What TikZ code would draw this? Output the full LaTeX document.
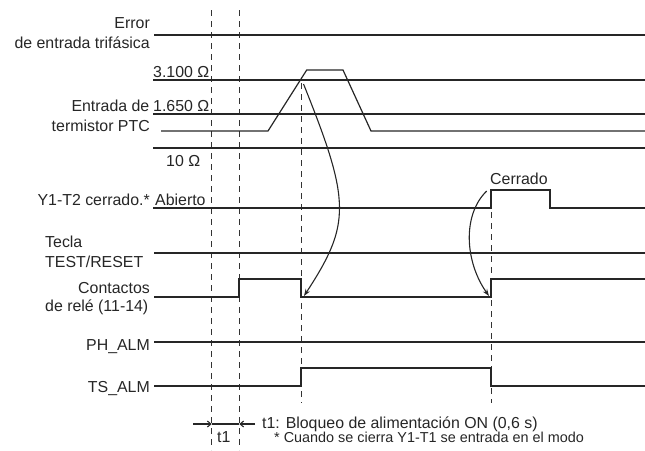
\documentclass[tikz,border=0pt]{standalone}
\usepackage{fontspec}
\setmainfont{Liberation Sans}
\usetikzlibrary{arrows.meta, positioning}

\begin{document}
\begin{tikzpicture}[
        x=1pt, y=-1pt,
        lbl/.style={font=\fontsize{15.9}{18}\selectfont, inner sep=0pt, text=black!85},
        note/.style={lbl, font=\fontsize{14.4}{17}\selectfont},
        sig/.style={line width=1.8pt, black!85},
        ptc/.style={line width=1.2pt, black!85},
        vdash/.style={line width=1pt, black!80, dash pattern=on 6pt off 5pt},
        curarr/.style={-{Stealth[length=7pt, width=5pt]}, line width=1.1pt, black!85},
        tarr/.style={-{Straight Barb[length=3.5pt, width=6pt]}, line width=1.1pt, black!85},
    ]
    \useasboundingbox (0,0) rectangle (645,450);
    \draw[vdash] (211.7,10) -- (211.7,450);
    \draw[vdash] (239.3,10) -- (239.3,450);
    \draw[vdash] (301,83) -- (301,403);
    \draw[vdash] (491,190) -- (491,403);
    \draw[sig] (154,35) -- (645,35);
    \draw[sig] (153,80) -- (645,80);
    \draw[sig] (153,114) -- (645,114);
    \draw[ptc] (161,131) -- (268,131) -- (306.7,70) -- (343,70) -- (371,131) -- (645,131);
    \draw[sig] (153,148) -- (645,148);
    \draw[sig] (153,208) -- (491,208) -- (491,190) -- (550,190) -- (550,208) -- (645,208);
    \draw[sig] (154,253) -- (645,253);
    \draw[sig] (154,297) -- (239.3,297) -- (239.3,279) -- (301,279) -- (301,297)
        -- (491,297) -- (491,279) -- (645,279);
    \draw[sig] (154,342) -- (645,342);
    \draw[sig] (154,386) -- (301,386) -- (301,368) -- (491,368) -- (491,386) -- (645,386);
    \node[lbl, anchor=base east] (err1) at (150,28.3) {Error};
    \node[lbl, anchor=base east] (err2) at (150,48.3) {de entrada trifásica};
    \node[lbl, anchor=base west] (r3100) at (153,77.5) {3.100 Ω};
    \node[lbl, anchor=base east] (ptc1) at (149.5,111.7) {Entrada de};
    \node[lbl, base right=3.5pt of ptc1] (r1650) {1.650 Ω};
    \node[lbl, anchor=base east] (ptc2) at (150,131.5) {termistor PTC};
    \node[lbl, anchor=base west] (r10) at (166,166.7) {10 Ω};
    \node[lbl, anchor=base east] (y1t2) at (150,205) {Y1-T2 cerrado.*};
    \node[lbl, base right=5pt of y1t2] (abierto) {Abierto};
    \node[lbl, anchor=base west] (tecla1) at (45,247.3) {Tecla};
    \node[lbl, anchor=base west] (tecla2) at (45,267.3) {TEST/RESET};
    \node[lbl, anchor=base east] (cont1) at (150,293.3) {Contactos};
    \node[lbl, anchor=base east] (cont2) at (148.5,311) {de relé (11-14)};
    \node[lbl, anchor=base east] (phalm) at (150,350) {PH\_ALM};
    \node[lbl, anchor=base east] (tsalm) at (150,392.7) {TS\_ALM};
    \node[lbl, anchor=base west] (cerrado) at (490,184) {Cerrado};
    \node[lbl, anchor=base west] (t1note) at (262,428.3) {t1: Bloqueo de alimentación ON (0,6 s)};
    \node[lbl, anchor=base west] (t1lbl) at (217,442.7) {t1};
    \node[note, anchor=base west] (modo) at (274,442.7) {* Cuando se cierra Y1-T1 se entrada en el modo};
    \coordinate (peak) at (303.5,84);
    \coordinate (relayoff) at (304,296);
    \coordinate (closed) at (486.7,191);
    \coordinate (relayon) at (489,296);
    \coordinate (ltail) at (193,424);
    \coordinate (lhead) at (211.7,424);
    \coordinate (rhead) at (239.3,424);
    \coordinate (rtail) at (255,424);
    \draw[curarr] (peak) .. controls (351,202) and (351,224) .. (relayoff);
    \draw[curarr] (closed) .. controls (462,215) and (465,262) .. (relayon);
    \draw[tarr] (ltail) -- (lhead);
    \draw[line width=1.1pt, black!85] (lhead) -- (rhead);
    \draw[tarr] (rtail) -- (rhead);
\end{tikzpicture}
\end{document}
